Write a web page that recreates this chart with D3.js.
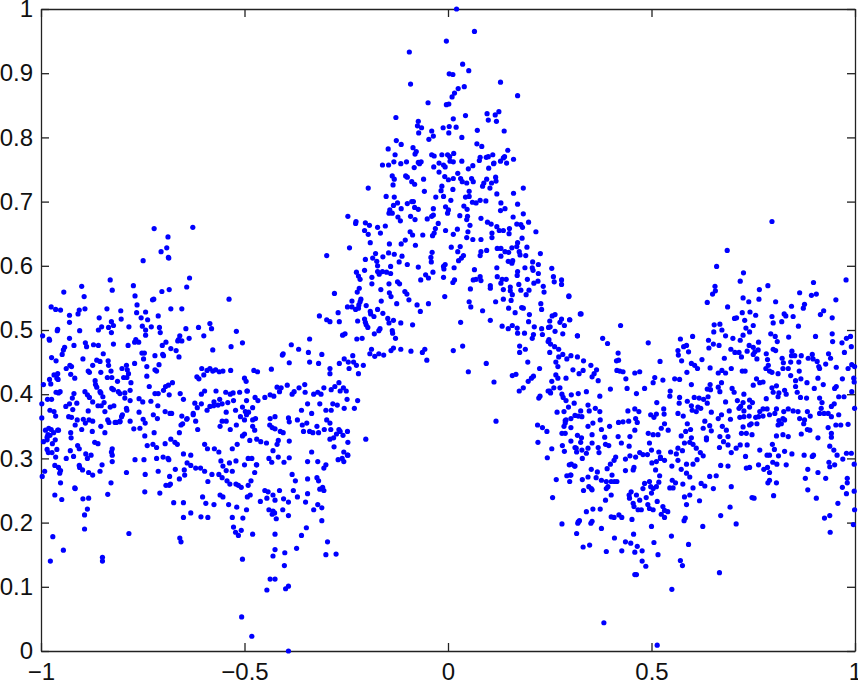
<!DOCTYPE html>
<html><head><meta charset="utf-8">
<script src="https://cdn.jsdelivr.net/npm/d3@7"></script>
<style>html,body{margin:0;padding:0;background:#fff}svg{display:block}
.tick text{font-family:"Liberation Sans",Arial,sans-serif;font-size:24px;fill:#111}
</style></head><body><div id="chart"></div>
<script>
const xTicks=[-1,-0.5,0,0.5,1];
const yTicks=[0,0.1,0.2,0.3,0.4,0.5,0.6,0.7,0.8,0.9,1];
const upperLeft=[[-.722,.658],[-.627,.660],[-.688,.645],[-.691,.628],[-.705,.622],[-.687,.613],[-.686,.612],[-.749,.608],[-.830,.578],[-.635,.581],[-.900,.568],[-.773,.569],[-.642,.567],[-.944,.559],[-.825,.562],[-.703,.560],[-.685,.563],[-.894,.552],[-.769,.553],[-.723,.548],[-.726,.547],[-.538,.548],[-.764,.539],[-.975,.536],[-.964,.532],[-.952,.531],[-.906,.531],[-.892,.533],[-.838,.533],[-.804,.530],[-.681,.533],[-.654,.533],[-.930,.523],[-.909,.525],[-.765,.527],[-.743,.528],[-.712,.522],[-.857,.519],[-.803,.517],[-.754,.519],[-.738,.516],[-.930,.512],[-.827,.513],[-.585,.510],[-.822,.507],[-.851,.505],[-.834,.504],[-.784,.505],[-.751,.506],[-.729,.505],[-.709,.504],[-.644,.502],[-.613,.504],[-.581,.502],[-.959,.501],[-.960,.499],[-.905,.499],[-.859,.500],[-.743,.500],[-.520,.498],[-.827,.496],[-.707,.496],[-.996,.491],[-.743,.492],[-.659,.491],[-.600,.491],[-.980,.486],[-.930,.487],[-.767,.485],[-.662,.485],[-.636,.487]];
const lowerLeftA=[[-.979,.484],[-.974,.457],[-.963,.452],[-.948,.462],[-.945,.469],[-.942,.473],[-.929,.445],[-.938,.440],[-.925,.443],[-.917,.425],[-.927,.431],[-.919,.476],[-.891,.480],[-.888,.474],[-.871,.477],[-.859,.476],[-.897,.455],[-.847,.463],[-.873,.445],[-.863,.453],[-.855,.451],[-.835,.452],[-.834,.445],[-.884,.436],[-.881,.434],[-.853,.434],[-.828,.436],[-.837,.426],[-.826,.426],[-.822,.478],[-.786,.476],[-.770,.481],[-.760,.481],[-.752,.464],[-.746,.464],[-.748,.455],[-.770,.448],[-.801,.440],[-.790,.445],[-.788,.438],[-.785,.432],[-.797,.426],[-.789,.426],[-.740,.443],[-.740,.428],[-.710,.446],[-.720,.460],[-.720,.438],[-.716,.436],[-.702,.476],[-.693,.481],[-.681,.471],[-.668,.468],[-.701,.462],[-.699,.460],[-.661,.458],[-.664,.483],[-.654,.483],[-.578,.469],[-.533,.474],[-.505,.480],[-.405,.463],[-.407,.461],[-.390,.449],[-.468,.435],[-.434,.439],[-.578,.436],[-.994,.415],[-.976,.416],[-.979,.423],[-.968,.430],[-.959,.432],[-.961,.425],[-.958,.423],[-.963,.403],[-.957,.402],[-.953,.404],[-.984,.392],[-.974,.392],[-.998,.385],[-.978,.375],[-.968,.373],[-.964,.366],[-.998,.363],[-.959,.344],[-.969,.340],[-.983,.337],[-.981,.347],[-.975,.345],[-.989,.344],[-.957,.344]];
const lowerLeftB=[[-.985,.333],[-.978,.336],[-.994,.326],[-.985,.329],[-.972,.323],[-.965,.329],[-.985,.314],[-.982,.309],[-.973,.309],[-.961,.314],[-.964,.302],[-.997,.272],[-.991,.280],[-.966,.289],[-.957,.286],[-.952,.281],[-.954,.277],[-.952,.262],[-.966,.243],[-.949,.236],[-.971,.178],[-.945,.157],[-.977,.140],[-.917,.254],[-.916,.253],[-.906,.289],[-.905,.286],[-.898,.282],[-.897,.237],[-.893,.212],[-.886,.221],[-.893,.190],[-.883,.238],[-.886,.300],[-.890,.307],[-.877,.305],[-.883,.278],[-.873,.274],[-.850,.290],[-.836,.244],[-.855,.280],[-.828,.262],[-.825,.295],[-.790,.278],[-.825,.315],[-.827,.310],[-.825,.305],[-.769,.298],[-.747,.298],[-.744,.275],[-.745,.248],[-.708,.246],[-.685,.258],[-.674,.231],[-.650,.231],[-.650,.208],[-.632,.215],[-.607,.209],[-.590,.208],[-.659,.176],[-.656,.170],[-.784,.183],[-.849,.146],[-.849,.140],[-.938,.300],[-.920,.303],[-.906,.315],[-.928,.312],[-.926,.332],[-.910,.320],[-.927,.340],[-.900,.345],[-.891,.355],[-.882,.360],[-.874,.342],[-.868,.325],[-.860,.323],[-.853,.350],[-.843,.340],[-.833,.356],[-.815,.356],[-.806,.358],[-.800,.368],[-.790,.378],[-.781,.358],[-.772,.346],[-.757,.347],[-.745,.335],[-.722,.340],[-.739,.320],[-.725,.322],[-.716,.317],[-.695,.323],[-.681,.330],[-.671,.325],[-.665,.322]];
const lowerLeftC=[[-.660,.340],[-.652,.354],[-.641,.362],[-.626,.370],[-.620,.358],[-.615,.345],[-.598,.322],[-.591,.315],[-.574,.315],[-.563,.310],[-.558,.296],[-.553,.288],[-.545,.281],[-.537,.293],[-.530,.280],[-.521,.296],[-.500,.290],[-.491,.300],[-.471,.290],[-.475,.278],[-.484,.265],[-.491,.258],[-.508,.255],[-.515,.258],[-.521,.260],[-.536,.260],[-.543,.265],[-.555,.270],[-.563,.275],[-.580,.275],[-.590,.264],[-.598,.280],[-.608,.285],[-.620,.285],[-.632,.305],[-.641,.293],[-.632,.289],[-.647,.274],[-.648,.282],[-.670,.283],[-.688,.300],[-.684,.272],[-.682,.260],[-.693,.258],[-.716,.300],[-.712,.280],[-.660,.268],[-.686,.298],[-.700,.302],[-.650,.307],[-.603,.240],[-.595,.230],[-.575,.228],[-.560,.243],[-.553,.240],[-.539,.228],[-.530,.208],[-.527,.193],[-.522,.185],[-.504,.207],[-.508,.188],[-.515,.180],[-.486,.243],[-.493,.240],[-.480,.182],[-.519,.224],[-.495,.220],[-.461,.233],[-.450,.250],[-.442,.248],[-.445,.238],[-.430,.243],[-.425,.235],[-.414,.250],[-.440,.220],[-.430,.218],[-.432,.213],[-.422,.206],[-.426,.215],[-.425,.182],[-.425,.158],[-.430,.148],[-.437,.112],[-.425,.112],[-.401,.153],[-.402,.133],[-.399,.097],[-.392,.101],[-.445,.095],[-.505,.143],[-.507,.053],[-.482,.023],[-.392,.000],[-.406,.220],[-.404,.237],[-.392,.232],[-.392,.211]];
const lowerLeftD=[[-.606,.385],[-.592,.375],[-.585,.381],[-.576,.382],[-.565,.383],[-.555,.385],[-.541,.387],[-.527,.390],[-.606,.400],[-.598,.405],[-.570,.405],[-.546,.403],[-.535,.400],[-.528,.402],[-.512,.403],[-.494,.405],[-.493,.405],[-.474,.395],[-.467,.390],[-.450,.395],[-.437,.399],[-.428,.397],[-.414,.404],[-.420,.411],[-.410,.410],[-.395,.414],[-.600,.430],[-.612,.424],[-.617,.427],[-.605,.440],[-.592,.437],[-.585,.440],[-.571,.438],[-.562,.435],[-.553,.436],[-.534,.437],[-.500,.425],[-.496,.420],[-.477,.437],[-.495,.390],[-.505,.380],[-.498,.373],[-.495,.368],[-.480,.379],[-.473,.362],[-.437,.362],[-.425,.365],[-.392,.363],[-.390,.357],[-.438,.352],[-.432,.348],[-.425,.346],[-.412,.342],[-.405,.340],[-.417,.328],[-.420,.322],[-.430,.312],[-.390,.327],[-.440,.300],[-.433,.294],[-.417,.302],[-.403,.294],[-.390,.301],[-.460,.326],[-.446,.324],[-.475,.344],[-.470,.330],[-.487,.328],[-.482,.300],[-.470,.290],[-.530,.315],[-.518,.322],[-.505,.335],[-.500,.338],[-.520,.352],[-.535,.345],[-.560,.350],[-.555,.358],[-.545,.358],[-.500,.360],[-.490,.372],[-.480,.360],[-.575,.388],[-.561,.392],[-.545,.372],[-.522,.375],[-.510,.365],[-.480,.350]];
const lowerLeftE=[[-.919,.401],[-.912,.386],[-.923,.394],[-.939,.381],[-.930,.385],[-.922,.376],[-.932,.365],[-.925,.364],[-.916,.352],[-.911,.360],[-.892,.404],[-.886,.399],[-.881,.395],[-.873,.388],[-.884,.374],[-.896,.361],[-.873,.358],[-.867,.421],[-.866,.415],[-.863,.411],[-.855,.404],[-.853,.402],[-.848,.396],[-.860,.382],[-.852,.382],[-.845,.387],[-.843,.373],[-.830,.380],[-.821,.382],[-.836,.360],[-.822,.407],[-.826,.409],[-.812,.420],[-.810,.404],[-.806,.401],[-.794,.402],[-.781,.406],[-.779,.418],[-.794,.394],[-.781,.390],[-.789,.375],[-.802,.365],[-.818,.356],[-.806,.357],[-.759,.393],[-.750,.388],[-.759,.372],[-.749,.361],[-.744,.355],[-.730,.389],[-.734,.412],[-.720,.401],[-.712,.401],[-.699,.406],[-.694,.412],[-.687,.414],[-.677,.418],[-.713,.382],[-.685,.399],[-.724,.368],[-.714,.362],[-.695,.373],[-.683,.370],[-.679,.370],[-.658,.401],[-.650,.392],[-.654,.366],[-.642,.361],[-.656,.352],[-.626,.368],[-.622,.386],[-.616,.379]];
const centerTop=[[.021,1.0],[.065,.965],[-.004,.950],[-.095,.933],[.036,.914],[.051,.904],[.003,.899],[.012,.898],[.129,.886],[-.092,.883],[.040,.879],[.025,.876],[.171,.865],[.016,.869],[.010,.863],[.002,.852],[-.049,.854],[-.004,.851],[-.128,.831],[.043,.834],[.116,.835],[.096,.837],[.125,.840],[-.073,.825],[.013,.829],[-.075,.818],[.099,.827],[.119,.825],[-.065,.815],[.020,.816],[-.012,.815],[.003,.817],[.072,.811],[-.072,.807],[.138,.810],[-.047,.797],[-.040,.810],[.002,.807],[-.127,.795],[-.036,.802],[.034,.800],[.071,.790],[-.147,.782],[-.115,.789],[-.086,.784],[-.078,.778],[.083,.786],[.099,.770],[.147,.780],[-.130,.773],[-.081,.774],[.014,.775],[-.001,.773],[-.015,.773],[.004,.770],[-.040,.773],[-.034,.771],[.110,.773],[.139,.770],[-.133,.762],[.079,.769],[.136,.768],[.161,.766],[.129,.763],[-.102,.762],[.094,.769],[.113,.760],[-.070,.759]];
const centerA=[[-.161,.757],[-.146,.757],[-.116,.759],[-.083,.753],[-.073,.761],[-.066,.762],[-.035,.754],[-.022,.760],[-.011,.757],[-.007,.754],[.005,.763],[.013,.762],[.034,.763],[.050,.751],[.061,.756],[.077,.764],[.100,.752],[.112,.759],[.144,.760],[-.022,.746],[-.008,.739],[.001,.734],[.013,.736],[.024,.744],[.031,.736],[.035,.731],[.046,.729],[.062,.731],[.058,.736],[.088,.729],[.095,.735],[.117,.738],[.118,.732],[.107,.729],[-.137,.740],[-.132,.735],[-.104,.740],[-.100,.738],[-.089,.731],[-.082,.727],[-.060,.735],[-.135,.726],[-.196,.721],[-.058,.716],[-.015,.724],[-.017,.717],[.012,.719],[.052,.716],[.103,.721],[.085,.724],[.120,.712],[.161,.713],[.185,.721],[-.152,.708],[-.132,.707],[-.030,.707],[-.011,.708],[.007,.702],[.043,.707],[.052,.708],[.060,.699],[.069,.698],[.079,.702],[.093,.701],[.130,.698],[.171,.696],[-.124,.698],[-.134,.694],[-.100,.697],[-.089,.700],[-.085,.700],[-.082,.691],[-.073,.688],[-.115,.689],[-.036,.689],[-.006,.692],[.001,.687],[.039,.693],[.047,.688],[.129,.686],[.140,.689],[-.143,.687],[-.145,.682],[-.137,.682],[-.036,.679],[-.040,.677],[-.051,.673],[-.001,.682],[.029,.678],[.048,.677],[.046,.672],[.081,.674],[.160,.676],[.185,.681],[-.123,.676],[-.092,.677],[-.081,.672],[-.246,.677],[-.226,.669],[-.227,.666],[-.203,.667],[-.193,.663],[-.173,.660],[-.154,.662],[-.117,.670],[-.024,.666],[-.031,.658],[-.006,.655],[.023,.657],[.054,.663],[.097,.668],[.106,.665],[.120,.661],[.151,.658],[.169,.665],[.179,.664],[.183,.660],[.198,.668],[.216,.653],[-.205,.655],[-.196,.649],[-.166,.651],[-.093,.653],[-.087,.648],[-.062,.648],[-.034,.651],[-.038,.647],[.013,.649],[.049,.653],[.046,.644],[.061,.641],[.081,.641],[.108,.651],[.108,.644],[.126,.655],[.136,.655],[.150,.650],[.182,.643],[-.191,.636],[-.144,.634],[-.115,.634],[-.105,.640],[-.080,.632],[.171,.636],[-.242,.628],[.008,.629],[.030,.630],[.121,.627],[.130,.627],[.157,.628],[.169,.630],[.194,.629]];
const centerB=[[-.298,.616],[-.178,.619],[-.146,.620],[-.132,.618],[-.113,.615],[-.160,.614],[-.185,.612],[-.203,.610],[-.175,.607],[-.173,.600],[-.120,.606],[-.100,.602],[-.039,.621],[-.042,.613],[-.041,.606],[.024,.622],[.038,.616],[.033,.612],[.026,.608],[.079,.616],[.081,.622],[.095,.624],[.140,.622],[.149,.621],[.175,.622],[.177,.617],[.191,.616],[.227,.619],[.130,.615],[.148,.607],[.159,.608],[.157,.604],[.208,.606],[.222,.602],[-.141,.599],[-.073,.598],[-.007,.602],[-.011,.599],[-.010,.595],[.015,.597],[.120,.597],[.189,.597],[.207,.597],[.209,.593],[.222,.588],[.255,.596],[-.225,.590],[-.205,.593],[-.173,.591],[-.169,.587],[-.161,.591],[-.151,.590],[-.141,.588],[-.037,.590],[.065,.594],[.171,.591],[.170,.585],[-.220,.584],[-.216,.579],[-.187,.582],[-.055,.586],[-.067,.578],[-.048,.581],[-.011,.582],[.016,.578],[.012,.574],[.062,.578],[.069,.579],[.079,.583],[.081,.577],[.121,.583],[.133,.579],[.143,.579],[.195,.579],[.221,.576],[.259,.583],[.261,.575],[.279,.578],[.279,.571],[-.187,.572],[-.145,.572],[-.124,.575],[-.119,.572],[.130,.573],[-.218,.565],[-.223,.559],[-.165,.563],[.055,.564],[.104,.569],[.104,.565],[.136,.563],[.153,.567],[.153,.561],[.174,.571],[.179,.562],[.199,.562],[.211,.573],[.234,.568],[.236,.559],[-.279,.557],[-.144,.558],[-.106,.560],[-.101,.556],[.158,.555],[.192,.555],[.297,.553],[-.140,.552],[-.008,.552]];
const centerC=[[-.214,.548],[-.216,.544],[-.236,.545],[-.164,.545],[-.096,.547],[.052,.544],[.117,.544],[.136,.548],[.155,.546],[.228,.541],[-.126,.541],[-.076,.539],[-.048,.541],[-.219,.539],[-.201,.538],[-.247,.536],[-.236,.536],[-.227,.532],[-.220,.534],[-.173,.532],[.056,.536],[.149,.534],[.181,.535],[.185,.534],[.230,.532],[-.191,.529],[-.190,.525],[-.160,.526],[-.182,.521],[-.270,.527],[-.068,.529],[.085,.530],[.165,.527],[.200,.524],[-.316,.522],[-.148,.518],[.256,.522],[.263,.524],[-.298,.516],[-.290,.513],[-.267,.513],[-.222,.514],[-.205,.517],[-.203,.512],[-.134,.515],[-.145,.511],[-.116,.511],[-.087,.508],[.031,.512],[.104,.515],[.198,.513],[.250,.514],[.279,.517],[.299,.516],[.275,.512],[.325,.525],[-.201,.508],[-.197,.504],[-.167,.502],[-.170,.499],[.133,.506],[.158,.507],[.148,.502],[.170,.503],[.212,.505],[.247,.504],[.251,.505],[.286,.507],[.230,.502],[-.137,.499],[-.136,.495],[-.181,.494],[-.259,.492],[-.253,.494],[.171,.495],[.188,.495],[.210,.493],[.232,.493],[.263,.498],[.282,.494],[.318,.491],[-.211,.487],[-.340,.486],[-.129,.487],[.207,.487],[-.224,.486],[.248,.485]];
const centerLow=[[-.385,.477],[-.367,.470],[-.343,.465],[-.340,.450],[-.318,.448],[-.310,.462],[-.290,.440],[-.290,.432],[-.267,.448],[-.255,.455],[-.245,.450],[-.243,.440],[-.234,.460],[-.232,.450],[-.225,.445],[-.220,.432],[-.208,.445],[-.192,.463],[-.188,.470],[-.180,.459],[-.170,.463],[-.158,.461],[-.140,.468],[-.134,.472],[-.116,.470],[-.091,.467],[-.063,.465],[-.057,.470],[-.052,.453],[.013,.468],[.036,.475],[.050,.435],[.094,.448],[.113,.419],[.118,.358],[.158,.429],[.167,.431],[.176,.465],[.176,.475],[.190,.470],[.196,.450],[.205,.425],[.197,.420],[.223,.394],[.226,.397],[-.352,.415],[-.366,.410],[-.378,.404],[-.383,.400],[-.351,.403],[-.345,.385],[-.330,.400],[-.320,.403],[-.312,.400],[-.305,.410],[-.287,.407],[-.278,.412],[-.268,.418],[-.265,.405],[-.257,.410],[-.250,.405],[-.248,.392],[-.222,.390],[-.230,.378],[-.255,.378],[-.272,.383],[-.283,.385],[-.287,.375],[-.300,.375],[-.315,.385],[-.335,.370],[-.360,.375],[-.358,.352],[-.370,.360],[-.347,.355],[-.355,.342],[-.340,.342],[-.332,.340],[-.322,.350],[-.318,.340],[-.304,.345],[-.298,.360],[-.290,.355],[-.288,.345],[-.268,.345],[-.281,.332],[-.274,.338],[-.290,.330],[-.280,.318],[-.265,.342],[-.258,.336],[-.247,.342],[-.246,.325],[-.202,.330],[-.256,.310],[-.246,.305],[-.247,.305],[-.256,.295],[-.260,.300],[-.270,.298],[-.300,.290],[-.305,.285],[-.320,.295],[-.335,.310],[-.345,.295],[-.345,.268],[-.322,.270],[-.318,.265],[-.308,.255],[-.305,.250],[-.315,.252],[-.345,.245],[-.350,.232],[-.320,.228],[-.310,.223],[-.330,.220],[-.348,.192],[-.360,.180],[-.372,.160],[-.310,.203],[-.296,.170],[-.275,.151],[-.300,.150],[-.380,.250],[-.370,.240],[-.383,.275],[-.375,.265]];
const lowerRightA=[[.175,.405],[.185,.410],[.210,.428],[.225,.440],[.265,.450],[.270,.443],[.250,.465],[.252,.478],[.246,.482],[.262,.474],[.272,.470],[.272,.458],[.282,.462],[.292,.455],[.265,.430],[.270,.425],[.255,.420],[.250,.405],[.246,.405],[.252,.402],[.260,.410],[.275,.410],[.290,.425],[.280,.400],[.283,.395],[.290,.390],[.296,.380],[.268,.372],[.285,.373],[.288,.355],[.290,.360],[.220,.352],[.232,.348],[.243,.342],[.221,.325],[.255,.315],[.244,.301],[.281,.320],[.286,.311],[.266,.267],[.257,.239],[.280,.198],[.316,.183],[.320,.201],[.298,.290],[.312,.288],[.292,.273],[.302,.274],[.299,.264],[.302,.348],[.285,.350],[.288,.359],[.312,.367],[.280,.339],[.288,.339],[.302,.327],[.318,.336],[.312,.317],[.316,.310]];
const lowerRightB=[[.303,.291],[.311,.288],[.301,.274],[.330,.267],[.344,.271],[.352,.283],[.367,.279],[.364,.270],[.377,.266],[.389,.264],[.401,.264],[.409,.264],[.415,.264],[.333,.250],[.346,.256],[.354,.251],[.389,.253],[.393,.256],[.403,.274],[.436,.281],[.457,.286],[.455,.282],[.479,.253],[.483,.261],[.495,.264],[.518,.263],[.512,.256],[.504,.253],[.500,.246],[.498,.256],[.520,.273],[.510,.282],[.501,.293],[.512,.295],[.522,.300],[.532,.297],[.550,.288],[.565,.297],[.573,.283],[.586,.277],[.594,.271],[.559,.262],[.551,.266],[.545,.254],[.553,.254],[.577,.260],[.602,.254],[.622,.261],[.631,.257],[.643,.272],[.659,.273],[.652,.253],[.696,.256],[.670,.289],[.688,.288],[.733,.285],[.741,.286],[.763,.290],[.785,.286],[.790,.278],[.790,.266],[.786,.262],[.807,.262],[.800,.242],[.747,.239],[.752,.238],[.831,.290],[.808,.291],[.798,.294],[.776,.283],[.884,.283],[.878,.269],[.884,.251],[.909,.278],[.905,.238],[.928,.269],[.938,.287],[.950,.290],[.936,.294],[.981,.269],[.981,.262],[.969,.255],[.979,.245],[.998,.249],[.958,.230],[.999,.220],[.996,.197],[.938,.211],[.925,.207],[.939,.185]];
const lowerRightC=[[.445,.243],[.450,.248],[.463,.243],[.446,.238],[.455,.230],[.457,.225],[.467,.220],[.475,.220],[.471,.235],[.487,.239],[.491,.228],[.495,.222],[.504,.220],[.514,.233],[.528,.225],[.532,.219],[.540,.217],[.524,.213],[.532,.208],[.581,.240],[.594,.243],[.618,.234],[.586,.228],[.583,.207],[.580,.203],[.626,.194],[.670,.211],[.693,.224],[.708,.198],[.500,.194],[.456,.182],[.549,.179],[.506,.169],[.409,.176],[.436,.170],[.449,.168],[.465,.163],[.477,.156],[.459,.154],[.516,.150],[.427,.156],[.389,.155],[.348,.165],[.332,.162],[.377,.191],[.351,.199],[.354,.202],[.319,.199],[.323,.203],[.340,.217],[.356,.221],[.374,.221],[.401,.209],[.408,.208],[.420,.212],[.427,.208],[.452,.205],[.387,.235],[.401,.243],[.352,.253],[.591,.166],[.571,.141],[.576,.133],[.486,.132],[.477,.140],[.459,.119],[.463,.119],[.667,.122],[.550,.096],[.383,.044],[.514,.009]];
const lowerRightD=[[.326,.325],[.315,.316],[.329,.313],[.340,.308],[.330,.300],[.344,.316],[.354,.324],[.369,.317],[.371,.309],[.387,.322],[.395,.320],[.426,.324],[.445,.319],[.436,.299],[.447,.304],[.461,.302],[.471,.309],[.479,.306],[.490,.306],[.412,.302],[.408,.297],[.399,.291],[.391,.284],[.495,.324],[.500,.313],[.518,.310],[.522,.302],[.547,.310],[.561,.307],[.565,.316],[.576,.312],[.581,.324],[.594,.325],[.602,.322],[.610,.316],[.620,.309],[.627,.304],[.612,.298],[.602,.291],[.586,.291],[.635,.329],[.667,.317],[.677,.326],[.688,.321],[.696,.309],[.708,.316],[.718,.321],[.735,.321],[.731,.303],[.766,.313],[.784,.305],[.790,.305],[.812,.304],[.797,.322],[.802,.314],[.827,.311],[.845,.307],[.875,.305],[.898,.305],[.895,.303],[.938,.319],[.948,.313],[.956,.305],[.970,.299],[.979,.308],[.991,.308],[.998,.291]];
const rightTop=[[.796,.669],[.686,.624],[.660,.599],[.726,.589],[.718,.576],[.656,.568],[.657,.561],[.650,.556],[.786,.569],[.765,.563],[.898,.574],[.978,.578],[.864,.558],[.905,.556],[.893,.554],[.725,.550],[.764,.548],[.739,.544],[.805,.544],[.953,.547],[.637,.543],[.687,.536],[.844,.537],[.876,.540],[.873,.534],[.923,.530],[.915,.524],[.723,.527],[.742,.528],[.756,.523],[.796,.521],[.826,.525],[.830,.522],[.848,.521],[.944,.519],[.709,.519],[.704,.518],[.729,.515],[.799,.511],[.820,.513],[.654,.508],[.668,.509],[.750,.507],[.861,.506],[.732,.503],[.741,.497],[.653,.497],[.673,.500],[.682,.491],[.725,.492],[.718,.484],[.700,.487],[.640,.484],[.793,.494],[.804,.490],[.809,.482],[.837,.489],[.903,.490],[.944,.494],[.945,.482],[.989,.490],[.979,.487],[.968,.480],[.991,.474],[.571,.486],[.601,.490],[.492,.480],[.424,.507],[.380,.487],[.392,.479],[.318,.491],[.327,.525],[.299,.516],[.297,.552],[.565,.468],[.566,.461],[.579,.474],[.586,.476],[.591,.466],[.574,.452],[.624,.454],[.641,.472],[.652,.478],[.666,.476],[.679,.456],[.644,.441],[.695,.470],[.705,.465],[.715,.465],[.721,.458],[.740,.476],[.750,.473],[.735,.467],[.763,.481],[.762,.469],[.754,.466],[.750,.462],[.759,.455],[.782,.463],[.785,.454],[.799,.470],[.805,.468],[.845,.467],[.844,.460],[.852,.460],[.868,.460],[.821,.456],[.824,.449],[.842,.450],[.862,.450],[.885,.456],[.895,.462],[.897,.455],[.907,.451],[.935,.463],[.940,.456],[.974,.465],[.928,.447],[.992,.446],[.983,.440],[.999,.443],[.954,.442],[.911,.443],[.913,.440]];
const rightMidA=[[.787,.445],[.781,.440],[.790,.436],[.796,.434],[.811,.432],[.823,.440],[.836,.440],[.842,.429],[.863,.436],[.867,.424],[.854,.421],[.909,.425],[.922,.415],[.882,.418],[.900,.409],[.969,.424],[.997,.425],[.998,.419],[.696,.440],[.664,.433],[.673,.437],[.682,.433],[.723,.436],[.730,.436],[.587,.434],[.598,.448],[.606,.445],[.613,.440],[.307,.438],[.322,.432],[.332,.437],[.351,.445],[.365,.438],[.359,.432],[.354,.427],[.369,.421],[.302,.460],[.318,.458],[.333,.452],[.414,.452],[.418,.464],[.419,.453],[.415,.437],[.422,.436],[.430,.435],[.437,.424],[.459,.433],[.471,.435],[.521,.451],[.508,.426],[.504,.418],[.528,.422],[.557,.424],[.569,.423],[.598,.415],[.644,.415],[.645,.407],[.637,.408],[.672,.418],[.664,.411],[.668,.404],[.698,.409],[.703,.403],[.727,.400],[.750,.414],[.758,.424],[.766,.418],[.774,.419],[.796,.410],[.807,.413],[.799,.403],[.813,.402],[.811,.396],[.827,.406],[.831,.400],[.854,.412],[.858,.403],[.866,.395],[.881,.394],[.913,.394],[.919,.387],[.954,.412],[.950,.409],[.960,.396],[.973,.396],[.992,.404],[.999,.378]];
const rightMidB=[[.340,.404],[.320,.401],[.303,.399],[.373,.397],[.399,.408],[.440,.409],[.463,.401],[.483,.409],[.546,.405],[.545,.397],[.569,.395],[.605,.395],[.617,.394],[.628,.392],[.639,.396],[.637,.386],[.682,.388],[.711,.390],[.725,.387],[.741,.391],[.748,.387],[.782,.393],[.310,.386],[.344,.383],[.362,.378],[.373,.373],[.326,.374],[.347,.374],[.442,.374],[.459,.377],[.469,.373],[.513,.387],[.588,.389],[.568,.386],[.530,.377],[.531,.369],[.565,.370],[.578,.366],[.598,.382],[.600,.375],[.614,.380],[.621,.378],[.610,.373],[.647,.372],[.672,.368],[.664,.362],[.691,.374],[.694,.361],[.719,.381],[.715,.378],[.727,.374],[.741,.380],[.717,.364],[.727,.365],[.740,.366],[.756,.364],[.763,.365],[.774,.366],[.766,.373],[.774,.377],[.784,.377],[.790,.368],[.803,.370],[.807,.377],[.825,.373],[.823,.362],[.813,.359],[.836,.377],[.848,.374],[.860,.373],[.883,.373],[.890,.366],[.864,.362],[.876,.360],[.874,.354],[.917,.378],[.913,.370],[.924,.370],[.942,.381],[.949,.385],[.960,.368],[.934,.370],[.942,.365]];
const rightMidC=[[.302,.362],[.320,.366],[.329,.365],[.356,.355],[.374,.360],[.397,.350],[.419,.356],[.430,.357],[.444,.358],[.461,.362],[.465,.356],[.498,.368],[.512,.369],[.506,.364],[.524,.347],[.532,.354],[.541,.344],[.588,.354],[.584,.342],[.596,.345],[.631,.358],[.627,.347],[.643,.351],[.647,.343],[.674,.350],[.684,.344],[.721,.339],[.725,.349],[.741,.352],[.745,.354],[.759,.354],[.733,.339],[.747,.337],[.811,.352],[.827,.360],[.819,.354],[.883,.345],[.889,.344],[.934,.348],[.942,.339],[.953,.352],[.965,.352],[.983,.353],[.492,.339],[.504,.337],[.516,.337],[.573,.335],[.598,.332],[.635,.332],[.668,.334],[.688,.334],[.807,.335],[.823,.337],[.836,.334],[.868,.338],[.909,.332],[.942,.333],[.418,.334],[.447,.334],[.459,.344],[.385,.333],[.354,.337],[.328,.332],[.344,.350],[.377,.345]];
const points=[...upperLeft,...lowerLeftA,...lowerLeftB,...lowerLeftC,...lowerLeftD,...lowerLeftE,...centerTop,...centerA,...centerB,...centerC,...centerLow,...lowerRightA,...lowerRightB,...lowerRightC,...lowerRightD,...rightTop,...rightMidA,...rightMidB,...rightMidC];
const W=858,H=682,L=41,R=855,T=9,B=651;
const x=d3.scaleLinear().domain([-1,1]).range([L,R]);
const y=d3.scaleLinear().domain([0,1]).range([B,T]);
const svg=d3.select("#chart").append("svg").attr("width",W).attr("height",H);
const fmt=d=>String(d).replace("-","\u2212");
const style=g=>{g.selectAll("path,line").attr("stroke","#222").attr("stroke-width",1.3);};
svg.append("g").attr("transform",`translate(0,${B})`).call(d3.axisBottom(x).tickValues(xTicks).tickFormat(fmt).tickSizeInner(-8).tickSizeOuter(0).tickPadding(12)).call(style);
svg.append("g").attr("transform",`translate(${L},0)`).call(d3.axisLeft(y).tickValues(yTicks).tickFormat(fmt).tickSizeInner(-8).tickSizeOuter(0).tickPadding(8)).call(style);
svg.append("g").attr("transform",`translate(0,${T})`).call(d3.axisTop(x).tickValues(xTicks).tickFormat("").tickSizeInner(-8).tickSizeOuter(0)).call(style);
svg.append("g").attr("transform",`translate(${R},0)`).call(d3.axisRight(y).tickValues(yTicks).tickFormat("").tickSizeInner(-8).tickSizeOuter(0)).call(style);
svg.append("g").attr("fill","#0000ff").selectAll("circle").data(points).join("circle")
 .attr("cx",d=>x(d[0])).attr("cy",d=>y(d[1])).attr("r",2.6);
</script></body></html>
